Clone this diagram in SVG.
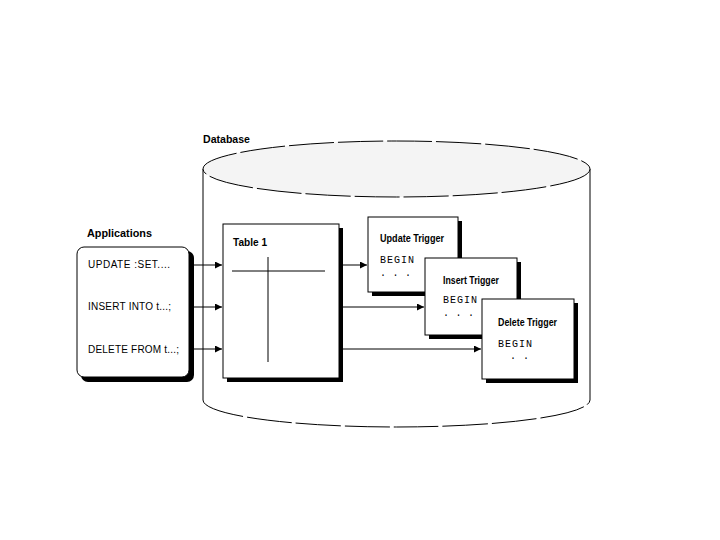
<svg xmlns="http://www.w3.org/2000/svg" width="720" height="540" viewBox="0 0 720 540">
<style>
.ttl{font-family:"Liberation Sans",Arial,sans-serif;font-weight:bold;font-size:11px;fill:#000}
.sm{font-family:"Liberation Sans",Arial,sans-serif;font-size:10px;fill:#000}
.mono{font-family:"Liberation Mono","Courier New",monospace;font-size:10px;fill:#000}
.box{fill:#fff;stroke:#000;stroke-width:1}
.sh{fill:#000}
.ln{stroke:#000;stroke-width:1;fill:none}
</style>
<defs>
<marker id="ah" viewBox="0 0 10 10" refX="10" refY="5" markerWidth="8" markerHeight="7" markerUnits="userSpaceOnUse" orient="auto">
<path d="M0,0 L10,5 L0,10 z" fill="#000"/>
</marker>
</defs>
<rect width="720" height="540" fill="#fff"/>
<g id="database">
<path d="M203,169 L203,400 M590,400 L590,169" class="ln"/>
<path d="M203,400 A193.5,27 0 0 0 590,400" class="ln" stroke-dasharray="45 4"/>
<ellipse cx="396.5" cy="169" rx="193.5" ry="28" fill="#f4f4f4" stroke="#000" stroke-width="1" stroke-dasharray="45 4"/>
<text x="203" y="143" class="ttl" textLength="47" lengthAdjust="spacingAndGlyphs">Database</text>
</g>
<g id="applications">
<text x="87" y="237" class="ttl" textLength="65" lengthAdjust="spacingAndGlyphs">Applications</text>
<rect x="81" y="251" width="113" height="131" rx="7" class="sh"/>
<rect x="77" y="247" width="112" height="130" rx="7" class="box"/>
<text x="88" y="268" class="sm" textLength="82" lengthAdjust="spacing">UPDATE :SET....</text>
<text x="88" y="310" class="sm" textLength="83" lengthAdjust="spacing">INSERT INTO t...;</text>
<text x="88" y="353" class="sm" textLength="91" lengthAdjust="spacing">DELETE FROM t...;</text>
</g>
<g id="table1">
<rect x="227" y="228" width="116" height="154" class="sh"/>
<rect x="223" y="224" width="116" height="154" class="box"/>
<text x="233" y="246" class="ttl" textLength="34" lengthAdjust="spacingAndGlyphs">Table 1</text>
<line x1="232" y1="271" x2="325" y2="271" class="ln"/>
<line x1="268" y1="257" x2="268" y2="362" class="ln"/>
</g>
<g id="update-trigger">
<rect x="372" y="221" width="90" height="75" class="sh"/>
<rect x="368" y="217" width="90" height="75" class="box"/>
<text x="380" y="242" class="ttl" font-size="9.5" textLength="64" lengthAdjust="spacingAndGlyphs">Update Trigger</text>
<text x="380" y="263" class="mono" textLength="34" lengthAdjust="spacing">BEGIN</text>
<text x="380" y="276" class="mono" textLength="31" lengthAdjust="spacing">. . .</text>
</g>
<g id="insert-trigger">
<rect x="429" y="262" width="92" height="77" class="sh"/>
<rect x="425" y="258" width="92" height="77" class="box"/>
<text x="443" y="284" class="ttl" font-size="9.5" textLength="56" lengthAdjust="spacingAndGlyphs">Insert Trigger</text>
<text x="443" y="303" class="mono" textLength="34" lengthAdjust="spacing">BEGIN</text>
<text x="443" y="316" class="mono" textLength="31" lengthAdjust="spacing">. . .</text>
</g>
<g id="delete-trigger">
<rect x="486" y="303" width="92" height="80" class="sh"/>
<rect x="482" y="299" width="92" height="80" class="box"/>
<text x="498" y="326" class="ttl" font-size="9.5" textLength="59" lengthAdjust="spacingAndGlyphs">Delete Trigger</text>
<text x="498" y="347" class="mono" textLength="34" lengthAdjust="spacing">BEGIN</text>
<text x="510" y="359" class="mono" textLength="19" lengthAdjust="spacing">. .</text>
</g>
<g id="connectors">
<line x1="194" y1="265" x2="222" y2="265" class="ln" marker-end="url(#ah)"/>
<line x1="194" y1="307" x2="222" y2="307" class="ln" marker-end="url(#ah)"/>
<line x1="194" y1="349" x2="222" y2="349" class="ln" marker-end="url(#ah)"/>
<line x1="343" y1="265" x2="367" y2="265" class="ln" marker-end="url(#ah)"/>
<line x1="343" y1="307" x2="424" y2="307" class="ln" marker-end="url(#ah)"/>
<line x1="343" y1="349" x2="481" y2="349" class="ln" marker-end="url(#ah)"/>
</g>
</svg>
